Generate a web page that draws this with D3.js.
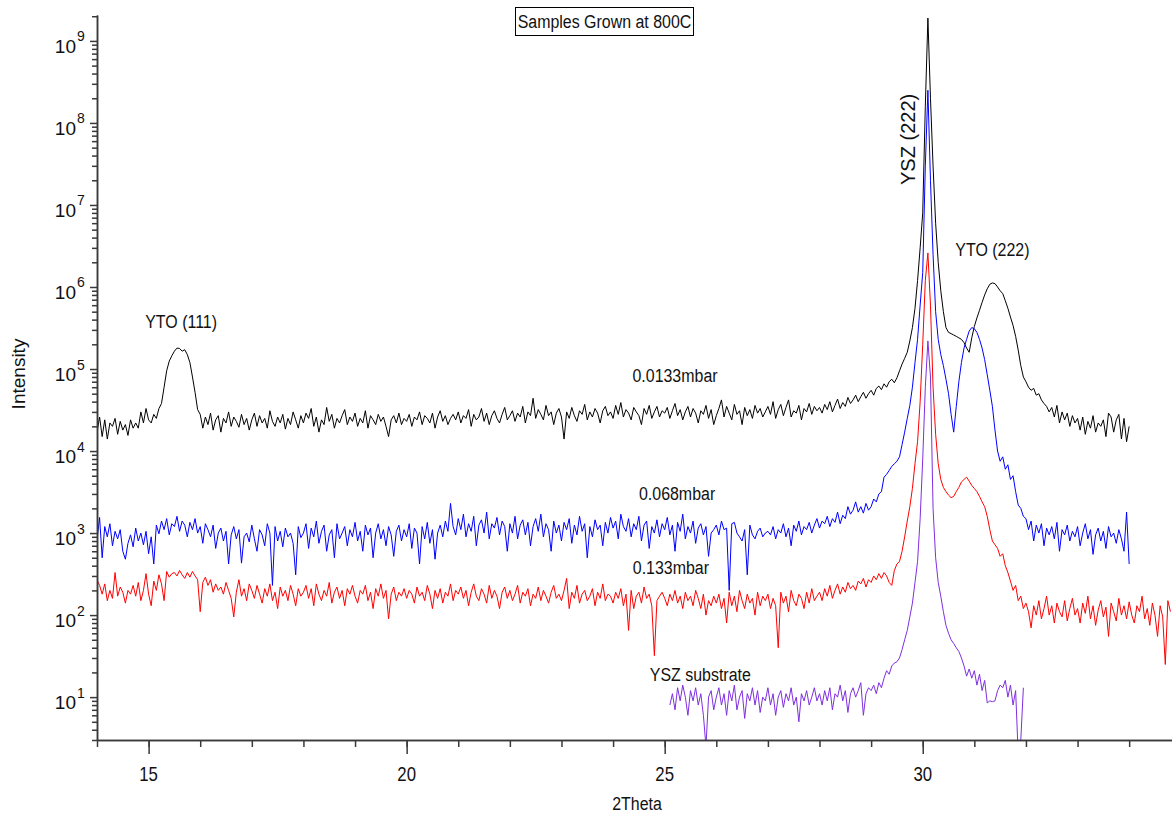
<!DOCTYPE html>
<html lang="en">
  <head>
    <meta charset="utf-8" />
    <script src="https://cdn.jsdelivr.net/npm/d3@7/dist/d3.min.js"></script>
    <style>
      body { margin: 0; background: #fff; }
      text { font-family: "Liberation Sans", Arial, sans-serif; fill: #111; }
      .axis path, .axis line { stroke: #3a3a3a; stroke-width: 1.5; }
      .curve { fill: none; stroke-width: 1; stroke-linejoin: round; }
    </style>
  </head>
  <body>
    <div id="container"></div>

    <script>
      // 2Theta scan grid
      const step = 0.05;

      // 0.0133 mbar (black), 14.00 .. 34.00
      const black0133 = [
        17000, 26000, 15000, 24000, 14000, 22000, 20000, 25000, 16000, 23000, 18000, 21000, 15500, 24000, 19000, 22000, 19000, 30000, 22000, 33000,
        24000, 22000, 28000, 25000, 33000, 38000, 60000, 95000, 125000, 145000, 165000, 180000, 178000, 165000, 172000, 150000, 120000, 80000, 52000, 32000,
        28000, 19000, 26000, 21000, 29000, 18000, 24000, 27000, 17000, 25000, 22000, 30000, 20000, 26000, 23000, 19500, 28000, 21000, 25000, 18000,
        24000, 29000, 20000, 27000, 22000, 25000, 19000, 31000, 23000, 20000, 26000, 22000, 28000, 18500, 25000, 21000, 30000, 24000, 19000, 27000,
        22000, 29000, 25000, 33000, 20000, 26000, 17000, 24000, 21000, 34000, 23000, 28000, 19000, 25000, 22000, 27000, 32000, 21000, 26000, 23000,
        29000, 20000, 25000, 22000, 31000, 19000, 27000, 24000, 21000, 28000, 23000, 26000, 20000, 15000, 24000, 27000, 22000, 29000, 21000, 25000,
        23000, 28000, 20000, 26000, 24000, 30000, 21000, 27000, 25000, 22000, 29000, 19000, 26000, 31000, 23000, 27000, 21000, 25000, 28000, 24000,
        30000, 22000, 27000, 25000, 32000, 20000, 28000, 24000, 26000, 33000, 23000, 29000, 21000, 27000, 31000, 25000, 22000, 28000, 34000, 24000,
        27000, 31000, 23000, 29000, 26000, 35000, 22000, 30000, 27000, 44000, 25000, 32000, 28000, 24000, 36000, 27000, 30000, 21000, 29000, 33000,
        26000, 14000, 30000, 25000, 34000, 27000, 23000, 31000, 28000, 37000, 24000, 30000, 26000, 33000, 29000, 22000, 31000, 35000, 27000, 30000,
        25000, 36000, 28000, 39000, 26000, 32000, 29000, 24000, 34000, 30000, 27000, 21000, 33000, 28000, 36000, 25000, 30000, 35000, 26000, 31000,
        29000, 34000, 25000, 31000, 38000, 27000, 32000, 24000, 30000, 35000, 26000, 33000, 29000, 22000, 31000, 28000, 36000, 25000, 32000, 21000,
        27000, 33000, 42000, 26000, 35000, 29000, 24000, 37000, 28000, 31000, 21000, 34000, 27000, 32000, 25000, 36000, 29000, 33000, 26000, 30000,
        35000, 28000, 40000, 25000, 32000, 37000, 27000, 34000, 42000, 26000, 31000, 29000, 36000, 24000, 33000, 30000, 38000, 28000, 35000, 31000,
        34000, 29000, 37000, 32000, 40000, 30000, 36000, 43000, 33000, 39000, 35000, 45000, 38000, 42000, 48000, 40000, 46000, 52000, 44000, 50000,
        55000, 48000, 58000, 62000, 56000, 66000, 60000, 70000, 75000, 68000, 78000, 95000, 115000, 135000, 160000, 220000, 320000, 550000, 1.2e6, 3.0e6,
        8.0e6, 1.6e8, 1.9e9, 2.0e8, 3.0e7, 6.0e6, 2.0e6, 9.0e5, 5.0e5, 3.2e5, 2.8e5, 2.7e5, 2.6e5, 2.5e5, 2.4e5, 2.3e5, 2.1e5, 1.8e5, 1.6e5, 2.4e5,
        3.3e5, 4.2e5, 5.2e5, 6.5e5, 8.0e5, 9.5e5, 1.08e6, 1.12e6, 1.1e6, 1.0e6, 9.0e5, 8.3e5, 6.8e5, 5.5e5, 4.3e5, 3.4e5, 2.5e5, 1.7e5, 1.1e5, 8.0e4,
        70000, 60000, 55000, 58000, 48000, 50000, 42000, 38000, 35000, 30000, 34000, 26000, 36000, 22000, 30000, 24000, 29000, 20000, 27000, 22000,
        25000, 18000, 26000, 16000, 23000, 19000, 27000, 17000, 22000, 20000, 24000, 15000, 29000, 26000, 17000, 24000, 28000, 14000, 25000, 13000,
        20000
      ];

      // 0.068 mbar (blue), 14.00 .. 34.00
      const blue068 = [
        820, 1550, 500, 1200, 900, 1300, 700, 1050, 850, 1100, 600, 480, 750, 950, 680, 1150, 800, 1000, 720, 1050,
        560, 900, 420, 1250, 980, 1400, 1100, 1500, 950, 1300, 1200, 1600, 1050, 1400, 1250, 900, 1350, 1100, 1500, 1000,
        1200, 750, 1300, 1100, 900, 1250, 650, 1000, 1150, 800, 1050, 420, 950, 1200, 850, 1100, 430, 900, 1000, 780,
        1250, 850, 600, 1100, 950, 700, 1300, 1000, 230, 1200, 800, 1050, 680, 1150, 900, 1000, 750, 310, 1200, 880,
        1000, 1300, 650, 1150, 900, 1400, 750, 1050, 1250, 600, 950, 1100, 500, 1300, 850, 1000, 1200, 700, 1100, 900,
        1350, 800, 1050, 600, 1250, 950, 1150, 500, 1000, 1300, 850, 1100, 700, 1200, 950, 520, 1050, 1250, 800, 1100,
        900, 1300, 650, 1150, 1000, 420, 1200, 850, 1350, 750, 1100, 480, 1000, 1250, 900, 1400, 1050, 2300, 1200, 950,
        1500, 1100, 1700, 900, 1300, 1050, 1600, 700, 1250, 1450, 1000, 1800, 850, 1300, 1150, 1550, 950, 1400, 1200, 600,
        1300, 1000, 1600, 850, 1250, 1450, 950, 1350, 700, 1200, 1500, 1050, 1700, 900, 1300, 1100, 600, 1400, 1000, 1250,
        800, 1350, 1100, 1500, 750, 1250, 950, 1600, 1050, 1300, 500, 1200, 900, 1450, 1100, 1250, 700, 1350, 1000, 1550,
        1150, 1400, 850, 1700, 1200, 1050, 1500, 900, 1300, 1100, 1600, 800, 1250, 1400, 650, 1200, 1000, 1450, 900, 1300,
        1100, 1550, 950, 1250, 600, 1350, 1050, 1700, 850, 1200, 1000, 1400, 750, 1150, 1300, 950, 1200, 520, 1000, 1100,
        1250, 950, 1400, 1100, 1150, 200, 1300, 1350, 1000, 900, 800, 1100, 310, 1250, 950, 850, 1050, 1150, 900, 1000,
        1050, 950, 1200, 850, 1100, 1000, 1300, 900, 1150, 700, 1250, 1050, 1400, 950, 1200, 1100, 1350, 1000, 1250, 1500,
        1150, 1400, 1300, 1600, 1200, 1500, 1350, 1800, 1300, 1650, 1500, 2100, 1700, 1900, 2400, 1800, 2100, 1750, 2300, 1900,
        2100, 2600, 2400, 3000, 3200, 4800, 5200, 5800, 6500, 7000, 7500, 8500, 12000, 17000, 25000, 36000, 60000, 120000, 230000, 600000,
        1.5e6, 3.0e7, 2.5e8, 2.0e7, 2.5e6, 5.0e5, 2.3e5, 1.5e5, 1.1e5, 7.5e4, 5.0e4, 2.8e4, 1.7e4, 3.5e4, 7.0e4, 1.2e5, 1.8e5, 2.3e5, 2.9e5, 3.2e5,
        3.1e5, 2.8e5, 2.3e5, 1.8e5, 1.3e5, 8.5e4, 5.5e4, 3.5e4, 1.8e4, 1.0e4, 7500, 8500, 6000, 6800, 4500, 5000, 3200, 2200, 2000, 1600,
        1500, 1100, 1400, 800, 1250, 1000, 1300, 700, 1150, 950, 1200, 850, 1350, 600, 1100, 950, 1250, 800, 1050, 900,
        1200, 700, 1000, 1300, 850, 1100, 550, 950, 1150, 800, 1050, 650, 1200, 900, 1000, 750, 1100, 850, 600, 1800,
        420
      ];

      // 0.133 mbar (red), 14.00 .. 34.80
      const red133 = [
        270, 230, 180, 240, 150, 200, 160, 330, 170, 220, 190, 140, 200, 180, 230, 170, 250, 150, 200, 320,
        180, 130, 260, 200, 310, 240, 150, 340, 290, 320, 330, 300, 350, 310, 280, 330, 290, 340, 300, 270,
        110, 250, 290, 230, 270, 190, 240, 200, 220, 180, 250, 200, 160, 95, 190, 270, 170, 210, 150, 240,
        200, 160, 230, 180, 140, 210, 170, 240, 150, 190, 120, 220, 170, 200, 150, 230, 180, 130, 210, 170,
        190, 230, 160, 210, 130, 240, 180, 150, 200, 170, 250, 140, 190, 220, 160, 200, 130, 210, 180, 230,
        170, 140, 200, 180, 230, 150, 190, 120, 210, 170, 240, 160, 200, 90, 180, 220, 150, 190, 170, 210,
        160, 200, 180, 140, 220, 170, 190, 150, 230, 180, 120, 200, 160, 210, 140, 190, 170, 240, 150, 200,
        180, 220, 160, 200, 130, 190, 240, 170, 150, 210, 180, 140, 230, 160, 200, 170, 120, 190, 220, 160,
        200, 150, 180, 230, 140, 190, 170, 210, 130, 180, 160, 220, 150, 200, 170, 140, 190, 230, 160, 180,
        150, 200, 280, 120, 190, 160, 230, 140, 180, 200, 150, 170, 210, 130, 190, 160, 240, 150, 180, 170,
        140, 190, 160, 210, 130, 180, 65, 200, 120, 170, 190, 140, 220, 160, 180, 130, 32, 150, 170, 190,
        160, 130, 180, 150, 200, 140, 170, 120, 190, 150, 170, 130, 200, 160, 120, 180, 100, 150, 130, 170,
        140, 180, 120, 160, 80, 190, 130, 170, 110, 200, 150, 120, 180, 140, 160, 100, 190, 130, 170, 150,
        180, 120, 160, 130, 40, 190, 140, 170, 110, 200, 150, 130, 180, 160, 120, 190, 140, 210, 150, 170,
        190, 150, 210, 170, 230, 160, 200, 240, 180, 220, 190, 250, 210, 230, 200, 260, 240, 280, 220, 270,
        250, 300, 270, 320, 280, 330, 300, 250, 230, 350, 420, 450, 600, 900, 1400, 2100, 3500, 7000, 13000, 40000,
        2.0e5, 1.2e6, 2.6e6, 6.0e5, 6.0e4, 1.6e4, 7000, 4500, 3600, 3200, 2900, 2700, 2800, 3200, 3600, 4200, 4500, 4800, 4300, 3800,
        3500, 3200, 2800, 2400, 2100, 1600, 1100, 800, 720, 650, 520, 560, 400, 330, 260, 200, 230, 150, 170, 120,
        140, 110, 70, 130, 100, 150, 90, 120, 170, 100, 130, 80, 140, 110, 95, 150, 85, 120, 160, 100,
        120, 80, 140, 105, 170, 90, 130, 75, 115, 150, 95, 125, 55, 140, 110, 85, 160, 100, 130, 90,
        145, 100, 80, 130, 110, 170, 90, 120, 75, 140, 100, 55, 130, 95, 25, 150, 110
      ];

      // YSZ substrate (purple), 25.10 .. 31.95
      const substrate = [
        8, 11, 7, 13, 9, 14, 10, 6, 12, 9, 13, 8, 11, 6, 2.5, 10, 12, 7,
        10, 13, 8, 11, 6, 12, 9, 14, 7, 10, 12, 5.5, 11, 9, 13, 8, 12, 6.5, 10, 9,
        13, 8, 11, 6, 10, 12, 7.5, 11, 9, 13, 8, 10, 5, 11, 9, 12, 8, 10, 13, 9,
        11, 8, 12, 9, 13, 7, 11, 10, 14, 9, 12, 6.5, 11, 13, 10, 12, 15, 6, 11, 13,
        12, 14, 11, 15, 13, 17, 21, 19, 24, 26, 27, 30, 38, 50, 65, 95, 140, 250, 450, 1500,
        8000, 60000, 2.2e5, 8.0e4, 2000, 500, 250, 170, 110, 75, 60, 50, 45, 40, 36, 30, 24, 18, 22, 17,
        21, 14, 19, 12, 16, 8.5, 9, 8.8, 9, 12, 14, 13, 16, 10, 14, 8, 12, 2, 3, 13
      ];

      const series = [
        { start: 14.0, values: black0133, color: "#000000" },
        { start: 14.0, values: blue068, color: "#0000ff" },
        { start: 14.0, values: red133, color: "#ff0000" },
        { start: 25.1, values: substrate, color: "#7f2fe0" },
      ];

      const xMajor = [15, 20, 25, 30];
      const yDecades = [1, 2, 3, 4, 5, 6, 7, 8, 9];

      const annotations = [
        { text: "YTO (111)", x: 15.63, y: 3.2e5 },
        { text: "0.0133mbar", x: 25.2, y: 6.9e4 },
        { text: "0.068mbar", x: 25.24, y: 2.5e3 },
        { text: "0.133mbar", x: 25.12, y: 3.2e2 },
        { text: "YSZ substrate", x: 25.69, y: 15.7 },
        { text: "YTO (222)", x: 31.35, y: 2.4e6 },
      ];

      const width = 1172;
      const height = 816;
      const plotL = 97, plotR = 1172, plotT = 15, plotB = 740;
      const narrow = 0.84; // Arial Narrow look from Liberation Sans

      const svg = d3.select("#container").append("svg").attr("width", width).attr("height", height);

      function label(px, py, str, size, anchor, rot, sx) {
        return svg.append("text")
          .attr("transform", `translate(${px},${py}) rotate(${rot || 0}) scale(${sx || narrow},1)`)
          .attr("text-anchor", anchor || "middle")
          .style("font-size", size + "px")
          .text(str);
      }

      const x = d3.scaleLinear().domain([14, 34.83]).range([plotL, plotR]);
      const y = d3.scaleLog().domain([3.0, 2.07e9]).range([plotB, plotT]);

      svg.append("clipPath").attr("id", "plot").append("rect")
        .attr("x", plotL).attr("y", 0).attr("width", plotR - plotL).attr("height", plotB);

      const line = d3.line().x((d) => x(d[0])).y((d) => y(d[1]));

      const g = svg.append("g").attr("clip-path", "url(#plot)");
      series.forEach((s) => {
        const pts = s.values.map((v, i) => [s.start + i * step, v]);
        g.append("path").datum(pts).attr("class", "curve").attr("stroke", s.color).attr("d", line);
      });

      // y axis: minor then major ticks
      const yMinor = [];
      for (let e = 0; e <= 9; e++) for (let k = 2; k <= 9; k++) {
        const v = k * Math.pow(10, e);
        if (v >= 3 && v <= 2.07e9) yMinor.push(v);
      }
      svg.append("g").attr("class", "axis").attr("transform", `translate(${plotL},0)`)
        .call(d3.axisLeft(y).tickValues(yMinor).tickSize(5).tickSizeOuter(0).tickFormat(""));
      svg.append("g").attr("class", "axis").attr("transform", `translate(${plotL},0)`)
        .call(d3.axisLeft(y).tickValues(yDecades.map((e) => Math.pow(10, e))).tickSize(7).tickSizeOuter(0).tickFormat(""));
      yDecades.forEach((e) => {
        const ty = y(Math.pow(10, e));
        svg.append("text").attr("x", 76).attr("y", ty + 12)
          .attr("text-anchor", "end").style("font-size", "19px").text("10");
        svg.append("text").attr("x", 77).attr("y", ty + 0.5)
          .style("font-size", "14px").text(e);
      });

      // x axis
      svg.append("g").attr("class", "axis").attr("transform", `translate(0,${plotB})`)
        .call(d3.axisBottom(x).tickValues(d3.range(14, 35)).tickSize(7).tickSizeOuter(0).tickFormat(""));
      svg.append("g").attr("class", "axis").attr("transform", `translate(0,${plotB})`)
        .call(d3.axisBottom(x).tickValues(xMajor).tickSize(14).tickSizeOuter(0).tickFormat(""));
      xMajor.forEach((v) => label(x(v), 781, String(v), 20, "middle"));

      label(637, 810, "2Theta", 19, "middle");
      label(25, 374, "Intensity", 19, "middle", -90, 1);

      // title box
      svg.append("rect").attr("x", 515.5).attr("y", 7.5).attr("width", 178).attr("height", 28)
        .attr("fill", "#fff").attr("stroke", "#000").attr("stroke-width", 1);
      label(604.5, 28, "Samples Grown at 800C", 19, "middle");

      annotations.forEach((a) => label(x(a.x), y(a.y), a.text, 19, "middle"));
      label(x(29.83) + 1, y(6.3e7), "YSZ (222)", 20, "middle", -90, 1);
    </script>
  </body>
</html>
